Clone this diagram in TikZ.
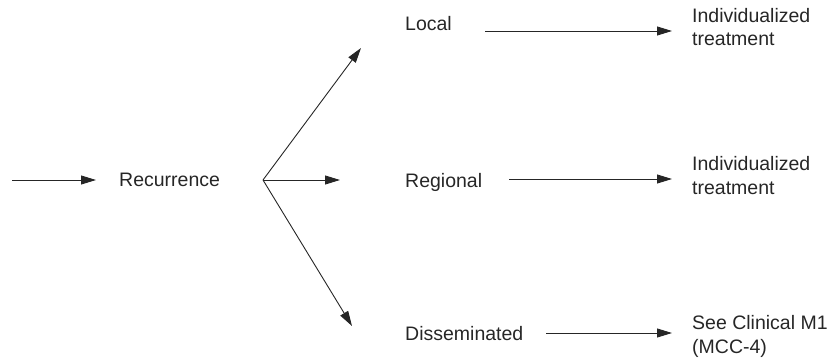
\documentclass[tikz,border=0pt]{standalone}
\usepackage{fontspec}
\setmainfont{Liberation Sans}
\usetikzlibrary{arrows.meta}
\tikzset{
  lbl/.style={anchor=base west, inner sep=0pt, font=\fontsize{19.5}{24}\selectfont, text=black!85},
  lbl2/.style={lbl, align=left},
  arr/.style={draw=black!85, line width=0.9pt, -{Triangle[length=15pt,width=9pt]}}
}
\begin{document}
\begin{tikzpicture}[x=1pt,y=-1pt]
\path[use as bounding box] (0,0) rectangle (835,361);
% text nodes
\node[lbl] (rec) at (119,186) {Recurrence};
\node[lbl] (loc) at (405,31) {Local};
\node[lbl] (reg) at (405,187) {Regional};
\node[lbl] (dis) at (405,340) {Disseminated};
\node[lbl2] (t1) at (692,46) {Individualized\\treatment};
\node[lbl2] (t2) at (692,194) {Individualized\\treatment};
\node[lbl2] (t3) at (692,353) {See Clinical M1\\(MCC-4)};
% connector coordinates
\coordinate (in0) at (12,180);
\coordinate (in1) at (96,180);
\coordinate (br) at (263,180);
\coordinate (up) at (361,48);
\coordinate (mid) at (340,180);
\coordinate (dn) at (352,326);
\coordinate (l0) at (485,31);
\coordinate (l1) at (672,31);
\coordinate (r0) at (509,179);
\coordinate (r1) at (672,179);
\coordinate (d0) at (546,333);
\coordinate (d1) at (672,333);
% connectors
\draw[arr] (in0) -- (in1);
\draw[arr] (br) -- (up);
\draw[arr] (br) -- (mid);
\draw[arr] (br) -- (dn);
\draw[arr] (l0) -- (l1);
\draw[arr] (r0) -- (r1);
\draw[arr] (d0) -- (d1);
\end{tikzpicture}
\end{document}
